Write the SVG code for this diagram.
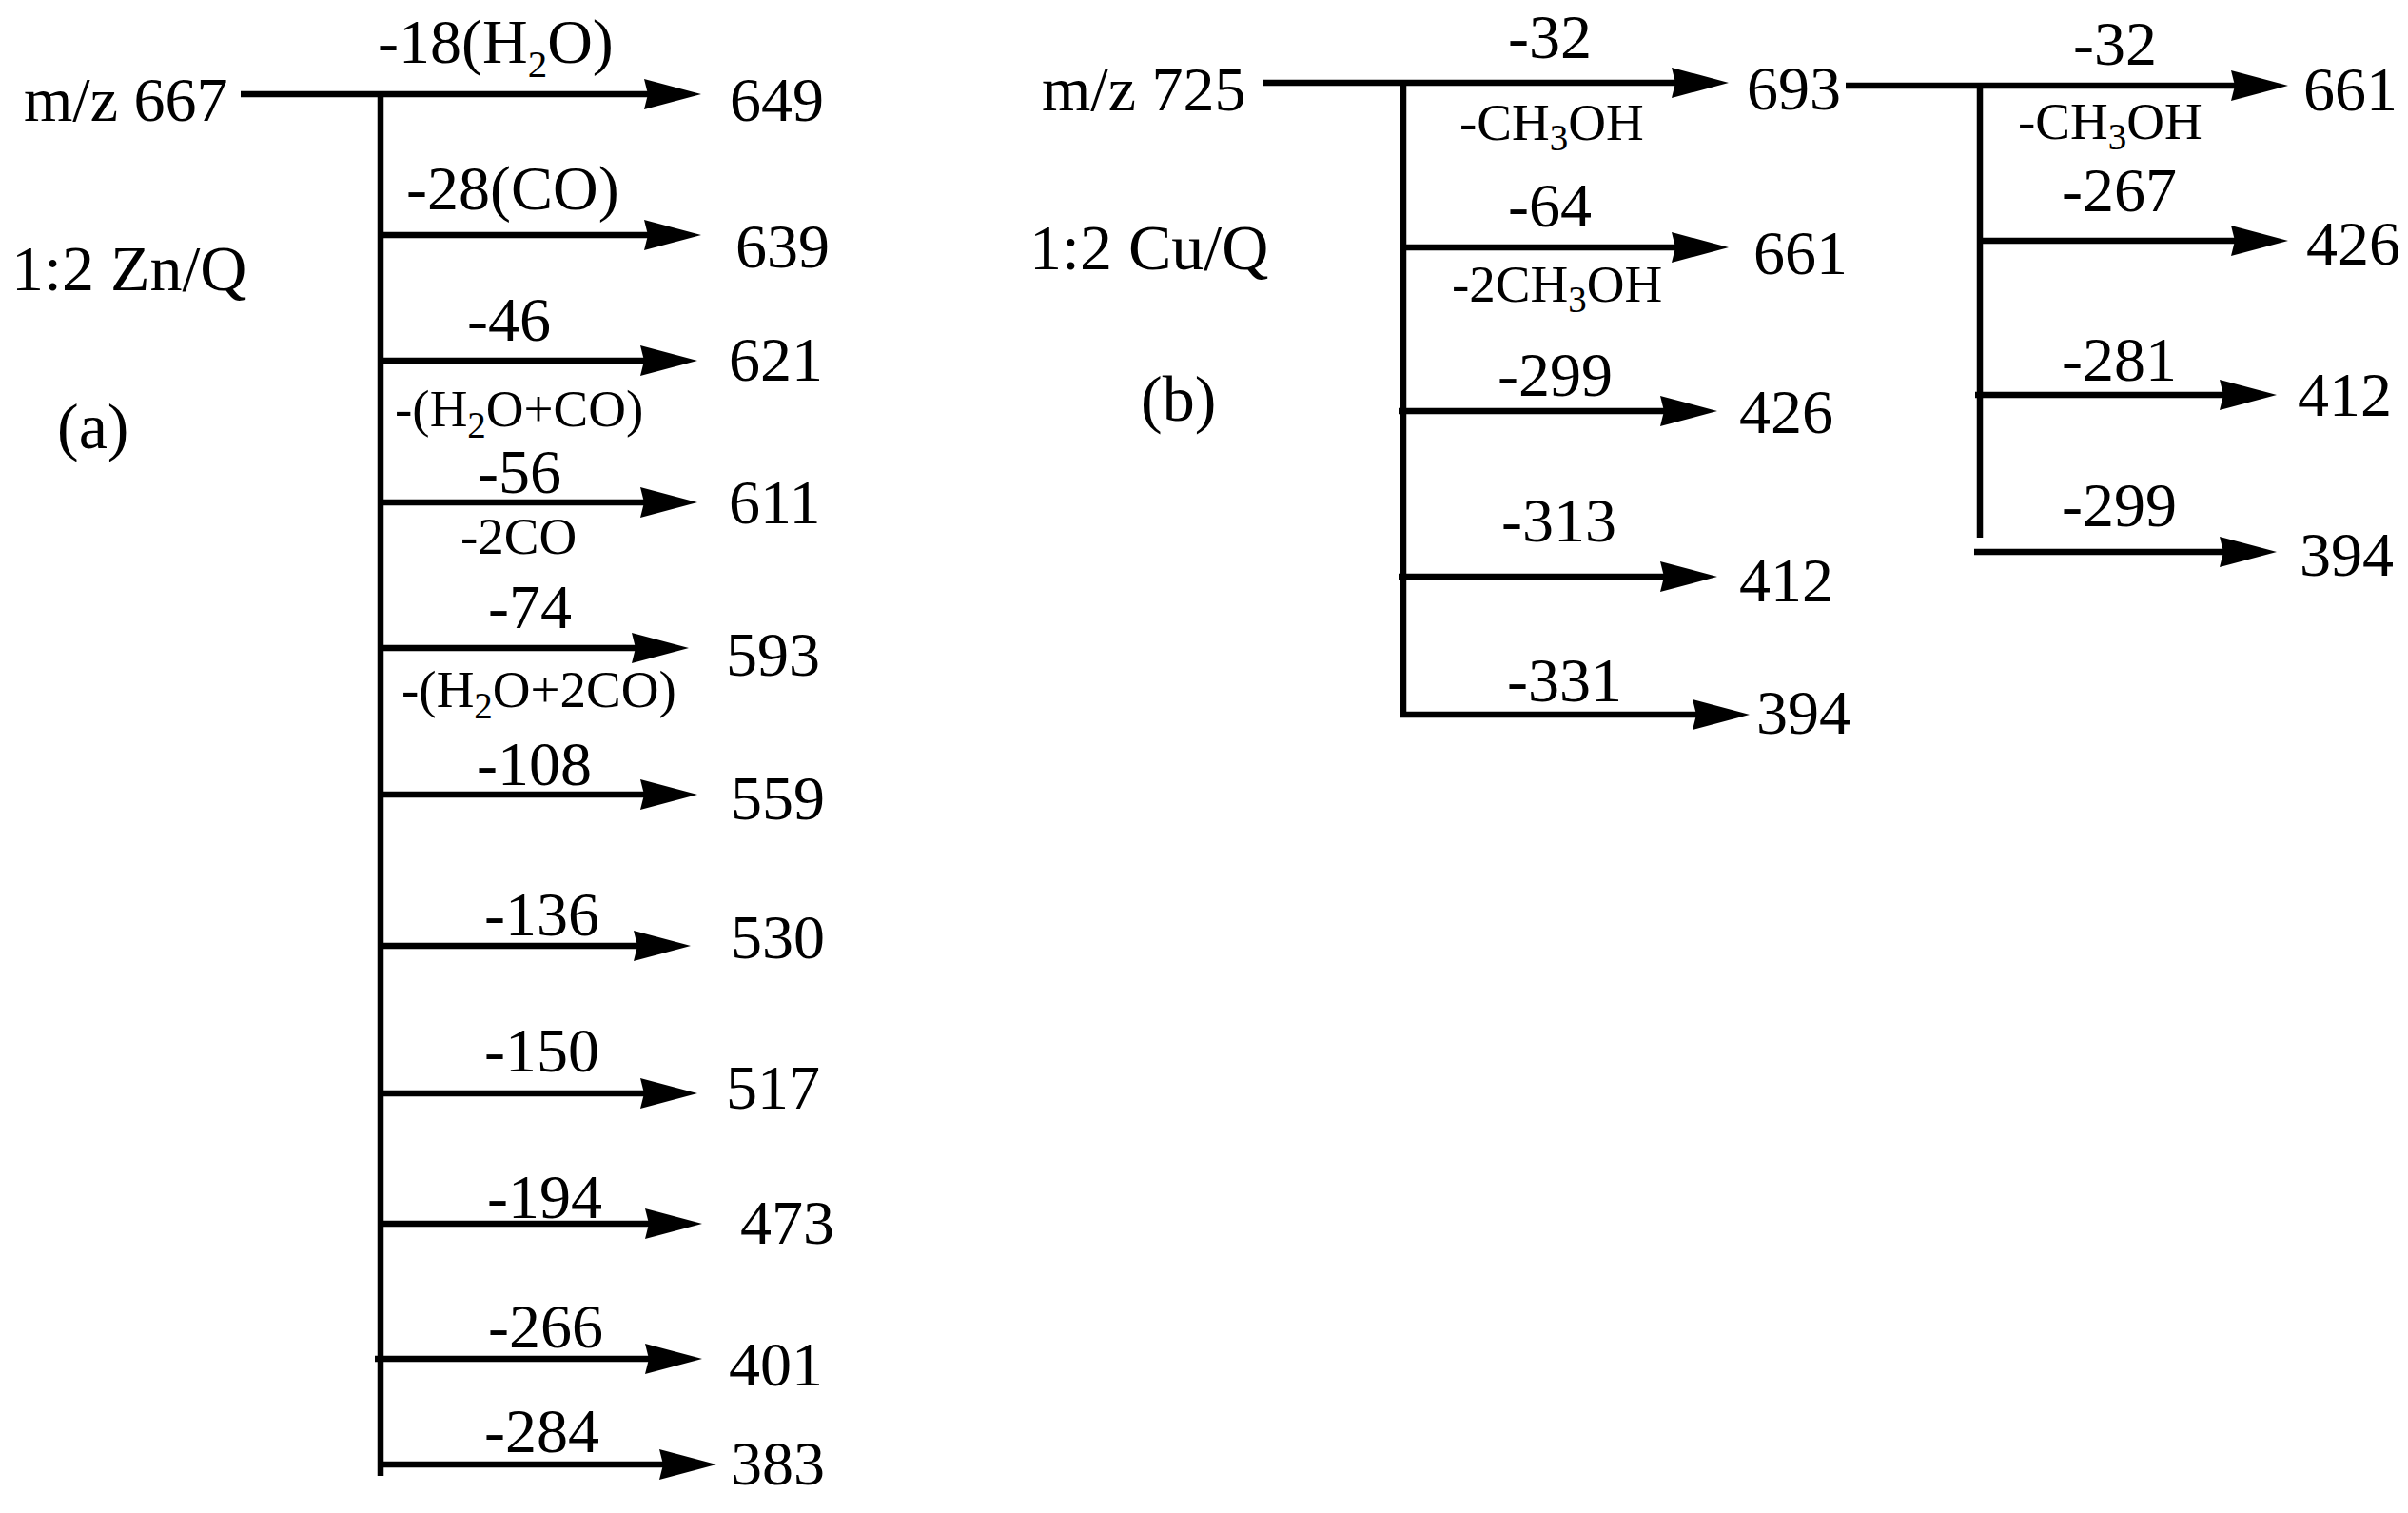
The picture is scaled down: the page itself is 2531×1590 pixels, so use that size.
<svg xmlns="http://www.w3.org/2000/svg" width="2531" height="1590" viewBox="0 0 2531 1590">
<style>
text{font-family:"Liberation Serif","Times New Roman",serif;fill:#000}
.t{font-size:66px}
.h{font-size:68px}
.s{font-size:55px}
.sub{font-size:41px}
.subs{font-size:39px}
.ln{stroke:#000;stroke-width:6.5;fill:none}
.ar{stroke:#000;stroke-width:6.5;fill:none;marker-end:url(#ah)}
</style>
<defs>
<marker id="ah" markerUnits="userSpaceOnUse" viewBox="0 0 60 32" markerWidth="60" markerHeight="32" refX="5" refY="16" orient="auto">
<path d="M0,0 L60,16 L0,32 L4,16 Z" fill="#000"/>
</marker>
</defs>
<rect width="2531" height="1590" fill="#fff"/>
<g id="connectors">
<line class="ln" x1="400" y1="99" x2="400" y2="1551"/>
<line class="ar" x1="253" y1="99" x2="682" y2="99"/>
<line class="ar" x1="400" y1="247" x2="682" y2="247"/>
<line class="ar" x1="400" y1="379" x2="678" y2="379"/>
<line class="ar" x1="400" y1="528" x2="678" y2="528"/>
<line class="ar" x1="400" y1="681" x2="669" y2="681"/>
<line class="ar" x1="400" y1="835" x2="678" y2="835"/>
<line class="ar" x1="400" y1="994" x2="671" y2="994"/>
<line class="ar" x1="400" y1="1149" x2="678" y2="1149"/>
<line class="ar" x1="400" y1="1286" x2="683" y2="1286"/>
<line class="ar" x1="394" y1="1428" x2="683" y2="1428"/>
<line class="ar" x1="400" y1="1539" x2="698" y2="1539"/>
<line class="ln" x1="1475" y1="87" x2="1475" y2="751"/>
<line class="ar" x1="1328" y1="87" x2="1762" y2="87"/>
<line class="ar" x1="1475" y1="260" x2="1762" y2="260"/>
<line class="ar" x1="1470" y1="432" x2="1750" y2="432"/>
<line class="ar" x1="1470" y1="606" x2="1750" y2="606"/>
<line class="ar" x1="1472" y1="751" x2="1784" y2="751"/>
<line class="ln" x1="2081" y1="87" x2="2081" y2="565"/>
<line class="ar" x1="1940" y1="90" x2="2350" y2="90"/>
<line class="ar" x1="2081" y1="253" x2="2350" y2="253"/>
<line class="ar" x1="2076" y1="415" x2="2338" y2="415"/>
<line class="ar" x1="2075" y1="580" x2="2338" y2="580"/>
</g>
<g id="panel-a-labels">
<text class="t" x="25" y="127">m/z 667</text>
<text class="h" x="12" y="305">1:2 Zn/Q</text>
<text class="h" x="60" y="471">(a)</text>
</g>
<g id="a-649"><text class="t" x="397" y="66">-18(H<tspan class="sub" dy="15">2</tspan><tspan dy="-15">O)</tspan></text><text class="t" x="767" y="127">649</text></g>
<g id="a-639"><text class="t" x="427" y="220">-28(CO)</text><text class="t" x="773" y="281">639</text></g>
<g id="a-621"><text class="t" x="491" y="358">-46</text><text class="s" x="415" y="448">-(H<tspan class="subs" dy="12">2</tspan><tspan dy="-12">O+CO)</tspan></text><text class="t" x="766" y="400">621</text></g>
<g id="a-611"><text class="t" x="502" y="518">-56</text><text class="s" x="484" y="582">-2CO</text><text class="t" x="766" y="550">611</text></g>
<g id="a-593"><text class="t" x="513" y="660">-74</text><text class="s" x="422" y="743">-(H<tspan class="subs" dy="12">2</tspan><tspan dy="-12">O+2CO)</tspan></text><text class="t" x="763" y="710">593</text></g>
<g id="a-559"><text class="t" x="501" y="825">-108</text><text class="t" x="768" y="861">559</text></g>
<g id="a-530"><text class="t" x="509" y="983">-136</text><text class="t" x="768" y="1007">530</text></g>
<g id="a-517"><text class="t" x="509" y="1126">-150</text><text class="t" x="763" y="1165">517</text></g>
<g id="a-473"><text class="t" x="512" y="1280">-194</text><text class="t" x="778" y="1307">473</text></g>
<g id="a-401"><text class="t" x="513" y="1416">-266</text><text class="t" x="766" y="1456">401</text></g>
<g id="a-383"><text class="t" x="509" y="1526">-284</text><text class="t" x="768" y="1560">383</text></g>
<g id="panel-b-labels">
<text class="t" x="1095" y="116">m/z 725</text>
<text class="h" x="1082" y="283">1:2 Cu/Q</text>
<text class="h" x="1199" y="442">(b)</text>
</g>
<g id="b-693"><text class="t" x="1585" y="61">-32</text><text class="s" x="1534" y="147">-CH<tspan class="subs" dy="11">3</tspan><tspan dy="-11">OH</tspan></text><text class="t" x="1836" y="115">693</text></g>
<g id="b-661"><text class="t" x="1585" y="238">-64</text><text class="s" x="1526" y="317">-2CH<tspan class="subs" dy="11">3</tspan><tspan dy="-11">OH</tspan></text><text class="t" x="1843" y="288">661</text></g>
<g id="b-426"><text class="t" x="1574" y="416">-299</text><text class="t" x="1828" y="455">426</text></g>
<g id="b-412"><text class="t" x="1578" y="569">-313</text><text class="t" x="1828" y="632">412</text></g>
<g id="b-394"><text class="t" x="1584" y="737">-331</text><text class="t" x="1846" y="771">394</text></g>
<g id="c-661"><text class="t" x="2179" y="68">-32</text><text class="s" x="2121" y="146">-CH<tspan class="subs" dy="11">3</tspan><tspan dy="-11">OH</tspan></text><text class="t" x="2421" y="116">661</text></g>
<g id="c-426"><text class="t" x="2167" y="222">-267</text><text class="t" x="2424" y="278">426</text></g>
<g id="c-412"><text class="t" x="2167" y="400">-281</text><text class="t" x="2415" y="437">412</text></g>
<g id="c-394"><text class="t" x="2167" y="553">-299</text><text class="t" x="2417" y="605">394</text></g>
</svg>
